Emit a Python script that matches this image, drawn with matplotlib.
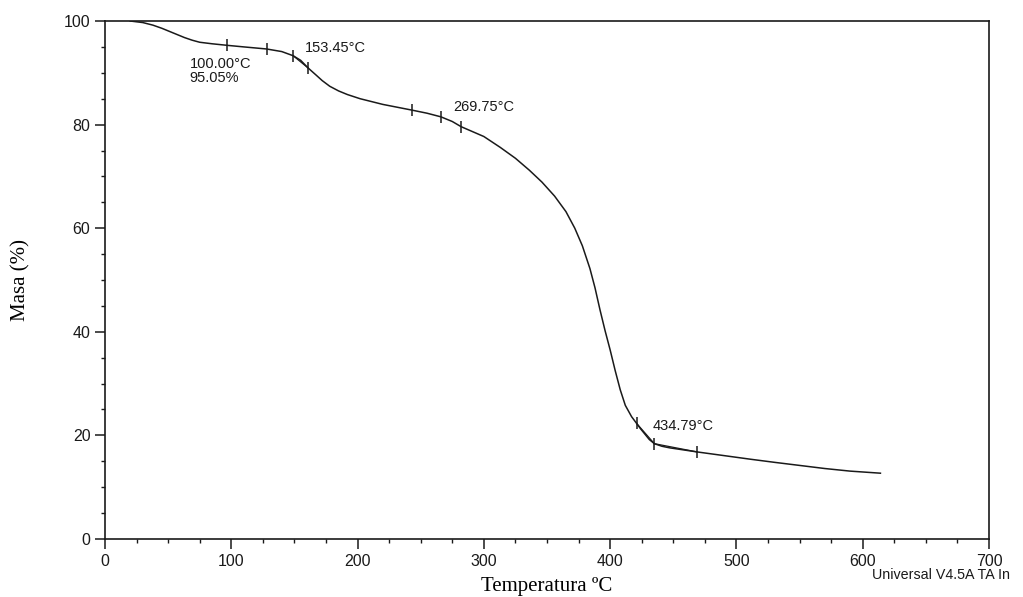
import matplotlib.pyplot as plt
from matplotlib.ticker import MultipleLocator
import numpy as np

# Curva TGA: temperatura (°C) y masa (%)
temp = [20, 30, 38, 45, 52, 58, 63, 69, 75, 85, 97, 110, 128, 140, 149, 155,
        161, 167, 172, 178, 185, 192, 202, 220, 243, 255, 266, 275, 282, 300,
        313, 325, 336, 346, 356, 365, 372, 378, 384, 388, 392, 396, 400, 404,
        408, 412, 417, 421, 424, 428, 431, 435, 441, 447, 458, 469, 490, 511,
        530, 550, 570, 590, 614]
masa = [100.0, 99.7, 99.2, 98.6, 97.9, 97.3, 96.8, 96.3, 95.9, 95.6, 95.3,
        95.0, 94.6, 94.1, 93.3, 92.4, 90.9, 89.6, 88.5, 87.4, 86.5, 85.8,
        85.0, 83.9, 82.8, 82.2, 81.5, 80.6, 79.6, 77.7, 75.6, 73.5, 71.2,
        68.9, 66.2, 63.2, 60.0, 56.6, 52.2, 48.5, 44.2, 40.2, 36.5, 32.5,
        28.8, 25.8, 23.6, 22.3, 21.3, 20.1, 19.2, 18.4, 17.9, 17.6, 17.2,
        16.8, 16.1, 15.4, 14.8, 14.2, 13.6, 13.1, 12.7]

# Marcas de análisis sobre la curva
marcas_t = [97, 128, 149, 161, 243, 266, 282, 421, 435, 469]

# Etiquetas de los puntos
etiquetas = ['100.00°C\n95.05%', '153.45°C', '269.75°C', '434.79°C']
etiq_x = [67, 158, 276, 434]
etiq_y = [93.0, 93.5, 82.0, 20.5]

plt.rcParams['font.family'] = ['Liberation Sans', 'DejaVu Sans']

fig = plt.figure(figsize=(10.23, 5.97), dpi=100)
ax = fig.add_axes([0.1026, 0.0972, 0.8642, 0.8676])

ax.plot(temp, masa, color='#1a1a1a', linewidth=1.1)

marcas_y = np.interp(marcas_t, temp, masa)
ax.plot(marcas_t, marcas_y, linestyle='none', marker='|', markersize=9,
        markeredgewidth=1.1, color='#1a1a1a')

# Tangentes del onset
ax.plot(marcas_t[7:9], marcas_y[7:9], color='#1a1a1a', linewidth=0.9)
ax.plot(marcas_t[8:10], marcas_y[8:10], color='#1a1a1a', linewidth=0.9)
ax.plot(marcas_t[2:4], marcas_y[2:4], color='#1a1a1a', linewidth=0.9)

for txt, x, y in zip(etiquetas, etiq_x, etiq_y):
    ax.text(x, y, txt, fontsize=10.5, va='top' if '\n' in txt else 'bottom',
            ha='left', color='#1a1a1a', linespacing=1.0)

ax.set_xlim(0, 700)
ax.set_ylim(0, 100)
ax.xaxis.set_major_locator(MultipleLocator(100))
ax.xaxis.set_minor_locator(MultipleLocator(25))
ax.yaxis.set_major_locator(MultipleLocator(20))
ax.yaxis.set_minor_locator(MultipleLocator(5))
ax.tick_params(which='major', direction='out', length=7, width=1.1,
               labelsize=11.5, colors='#1a1a1a')
ax.tick_params(which='minor', direction='out', length=3, width=1.0,
               colors='#1a1a1a')
for s in ax.spines.values():
    s.set_linewidth(1.2)
    s.set_color('#1a1a1a')

ax.set_xlabel('Temperatura ºC', family='Liberation Serif', fontsize=15,
              labelpad=6)
ax.set_ylabel('Masa (%)', family='Liberation Serif', fontsize=15,
              labelpad=24)

fig.text(0.852, 0.03, 'Universal V4.5A TA In', fontsize=10.3,
         color='#1a1a1a')

fig.savefig('out.png', dpi=100)
